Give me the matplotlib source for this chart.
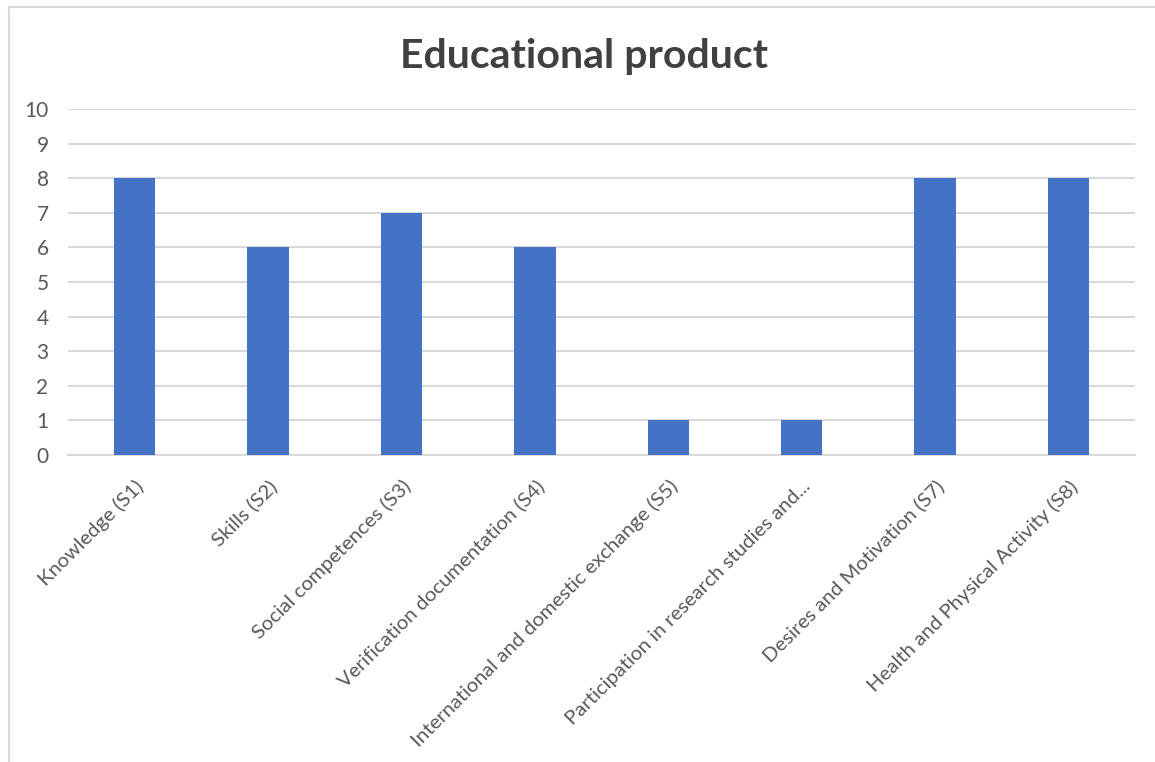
import numpy as np
import matplotlib
matplotlib.use("Agg")
import matplotlib.pyplot as plt
from matplotlib.lines import Line2D

# data
categories = ["Knowledge (S1)", "Skills (S2)", "Social competences (S3)",
              "Verification documentation (S4)",
              "International and domestic exchange (S5)",
              "Participation in research studies and...",
              "Desires and Motivation (S7)",
              "Health and Physical Activity (S8)"]
values = [8, 6, 7, 6, 1, 1, 8, 8]
y_ticks = list(range(0, 11))

plt.rcParams['font.family'] = ['Lato', 'DejaVu Sans']

fig = plt.figure(figsize=(11.55, 7.62), dpi=100)
ax = fig.add_axes([0.0589, 0.4029, 0.9238, 0.4541])

x = np.arange(len(categories))
ax.bar(x, values, width=0.31, color='#4472c4', zorder=3)

ax.set_xlim(-0.5, len(categories) - 0.5)
ax.set_ylim(0, 10)
ax.set_yticks(y_ticks)
ax.yaxis.grid(True, color='#d9d9d9', linewidth=1.5, zorder=0)
ax.set_axisbelow(True)
for s in ["top", "right", "left"]:
    ax.spines[s].set_visible(False)
ax.spines["bottom"].set_color('#d9d9d9')
ax.spines["bottom"].set_linewidth(1.5)
ax.tick_params(axis='both', length=0, labelcolor='#595959')
ax.tick_params(axis='y', pad=14, labelsize=15)

ax.set_xticks(x)
ax.set_xticklabels(categories, rotation=45, ha='right', rotation_mode='anchor',
                   fontsize=14.7)
ax.tick_params(axis='x', pad=16)

fig.text(0.506, 0.926, "Educational product", ha='center', va='center',
         fontsize=29.5, fontweight='bold', color='#404040')

# chart border
fig.add_artist(Line2D([9/1155, 9/1155], [0, 1 - 7/762], transform=fig.transFigure,
                      color='#d9d9d9', linewidth=1.5))
fig.add_artist(Line2D([9/1155, 1], [1 - 7/762, 1 - 7/762], transform=fig.transFigure,
                      color='#d9d9d9', linewidth=1.5))

fig.savefig("out.png", dpi=100, facecolor='white')
